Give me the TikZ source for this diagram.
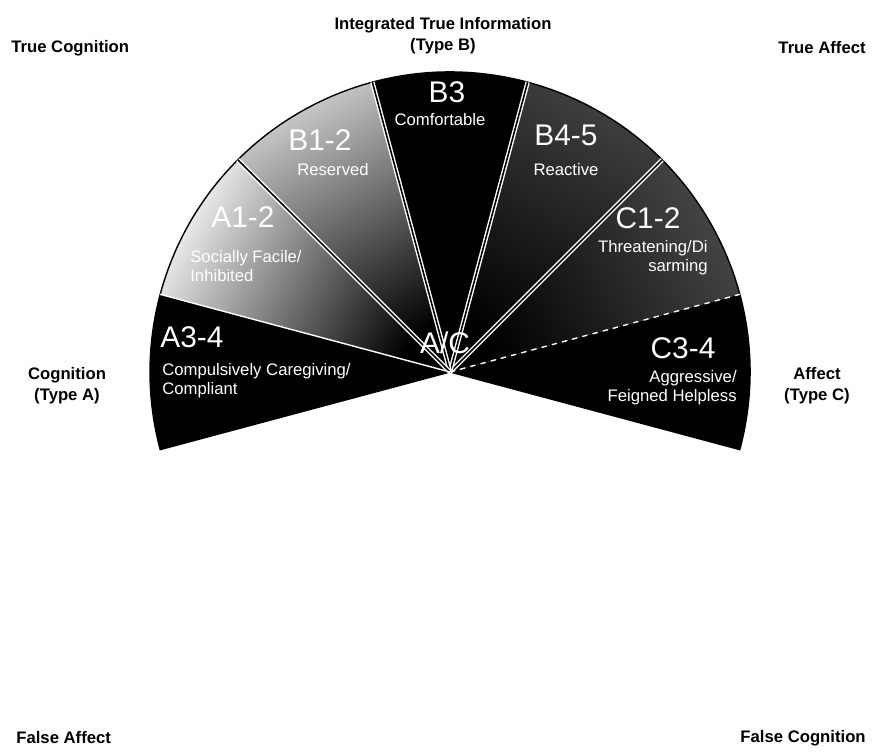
\documentclass[tikz,border=0pt]{standalone}
\usepackage{fontspec}
\setmainfont{Liberation Sans}
\tikzset{
  corner/.style={font=\bfseries\fontsize{9.5}{12}\selectfont, align=center, inner sep=0pt},
  code/.style={text=white, font=\fontsize{17}{18}\selectfont, inner sep=0pt},
  desc/.style={text=white, font=\fontsize{9.5}{11}\selectfont, inner sep=0pt},
  sep/.style={draw=white, line width=0.8pt},
}
\begin{document}
\begin{tikzpicture}[x=0.02cm, y=0.02cm]
    \useasboundingbox (0,0) rectangle (876,756);
    \coordinate (O) at (450,384);
    % spicchi: inizio / colore esterno / colore medio
    \foreach \a/\outc/\midc in {-15/black/black, 15/gray!55!black/black, 45/gray!50!black/black,
                                75/black/black, 105/gray!40/gray!35!black,
                                135/gray!12/gray!45, 165/black/black} {
      \pgfmathsetmacro{\b}{\a+30}
      \pgfmathsetmacro{\m}{\a+15-90}
      \shade[top color=\outc, middle color=\midc, bottom color=black, shading angle=\m]
        (O) -- ++(\a:300) arc (\a:\b:300) -- cycle;
    }
    \draw[black, line width=0.8pt] (O) -- ++(-15:300) arc (-15:195:300) -- cycle;
    % separatori
    \foreach \a in {45,75,105,135} {
      \draw[sep, double=black, double distance=0.9pt] (O) -- ++(\a:300);
    }
    \draw[sep] (O) -- ++(165:300);
    \draw[sep, dashed] (O) -- ++(15:300);
    % etichette interne
    \node[code] (b3) at (447,664) {B3};
    \node[desc] (b3t) at (440,636) {Comfortable};
    \node[code] (b12) at (320,616) {B1-2};
    \node[desc] (b12t) at (333,586) {Reserved};
    \node[code] (a12) at (243,539) {A1-2};
    \node[desc, anchor=west, align=left] (a12t) at (190,490) {Socially Facile/\\Inhibited};
    \node[code, anchor=west] (a34) at (160,419) {A3-4};
    \node[desc, anchor=west, align=left] (a34t) at (162,375) {Compulsively Caregiving/\\Compliant};
    \node[code] (ac) at (445,413) {A/C};
    \node[code] (b45) at (566,621) {B4-5};
    \node[desc] (b45t) at (566,586) {Reactive};
    \node[code] (c12) at (648,538) {C1-2};
    \node[desc, anchor=east, align=right] (c12t) at (708,498) {Threatening/Di\\sarming};
    \node[code] (c34) at (683,408) {C3-4};
    \node[desc, anchor=east, align=right] (c34t) at (737,368) {Aggressive/\\Feigned Helpless};
    % etichette esterne
    \node[corner] (top) at (443,720) {Integrated True Information\\(Type B)};
    \node[corner, anchor=west] (tc) at (11,708) {True Cognition};
    \node[corner, anchor=east] (ta) at (866,708) {True Affect};
    \node[corner] (ca) at (67,370) {Cognition\\(Type A)};
    \node[corner] (ac2) at (817,370) {Affect\\(Type C)};
    \node[corner, anchor=west] (fa) at (16,18) {False Affect};
    \node[corner, anchor=east] (fc) at (866,18) {False Cognition};
\end{tikzpicture}
\end{document}
